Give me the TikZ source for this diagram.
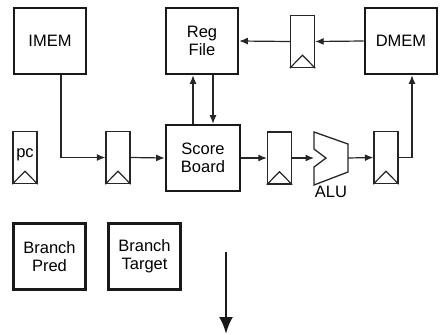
\documentclass[tikz,border=0pt]{standalone}
\usepackage{fontspec}
\setmainfont{Liberation Sans}
\usetikzlibrary{arrows.meta}
\begin{document}
\begin{tikzpicture}[x=1pt,y=-1pt,
  font=\fontsize{16.5}{18}\selectfont,
  unit/.style={draw=black!90, line width=2.6pt, rectangle, minimum width=72pt,
    minimum height=66pt, align=center, inner sep=0pt},
  latch/.style={draw=black!85, line width=1.3pt, rectangle, minimum width=24pt,
    minimum height=52pt, inner sep=0pt},
  arr/.style={draw=black!85, line width=1.2pt, -{Latex[length=8.5pt,width=7pt]}},
  bigarr/.style={draw=black!90, line width=2.6pt, -{Latex[length=17pt,width=14pt]}}]
\useasboundingbox (0,0) rectangle (440,335);

% functional units
\node[unit] (imem) at (50,41) {IMEM};
\node[unit] (rf)   at (202,41) {Reg\\File};
\node[unit] (dmem) at (401,41) {DMEM};
\node[unit, minimum width=74pt, minimum height=66pt] (sb) at (203,158) {Score\\Board};
\node[unit] (bp) at (49.5,256.5) {Branch\\Pred};
\node[unit] (bt) at (144.5,256.5) {Branch\\Target};

% pipeline latches
\node[latch] (pc) at (25,157.5) {};
\node (pctext) at (25,155) {pc};
\node[latch] (r1) at (118,157.5) {};
\node[latch] (r2) at (279.5,158) {};
\node[latch] (r3) at (386,157.5) {};
\node[latch] (rw) at (302.5,41.5) {};

% clock-edge marks on the latches
\foreach \r in {pc,r1,r2,r3,rw}
  \draw[line width=1.2pt, draw=black!85] (\r.south west) -- ([yshift=13pt]\r.south) -- (\r.south east);

% ALU outline with its input notch
\draw[line width=1.3pt, draw=black!85, line join=miter]
  (314,132) -- (348,144) -- (348,172) -- (314,185) -- (314,167)
  -- (326,158) -- (314,149) -- cycle;
\coordinate (aluin) at (314,158);
\coordinate (aluout) at (348,158);
\node (alulbl) at (331,192) {ALU};

% datapath connections
\draw[arr] ([xshift=11pt]imem.south) |- (r1.west);
\draw[arr] (r1.east) -- (sb.west);
\draw[arr] (sb.east) -- (r2.west);
\draw[arr] (r2.east) -- (aluin);
\draw[arr] (aluout) -- (r3.west);
\draw[arr] (r3.east) -| ([xshift=11pt]dmem.south);
\draw[arr] (dmem.west) -- (rw.east);
\draw[arr] (rw.west) -- (rf.east);
\coordinate (sbup) at ([xshift=-10pt]sb.north);
\coordinate (sbdn) at ([xshift=10pt]sb.north);
\draw[arr] (sbup) -- (sbup |- rf.south);
\draw[arr] (sbdn |- rf.south) -- (sbdn);

% large downward arrow
\coordinate (dtop) at (226,252);
\coordinate (dbot) at (226,334);
\draw[bigarr] (dtop) -- (dbot);
\end{tikzpicture}
\end{document}
